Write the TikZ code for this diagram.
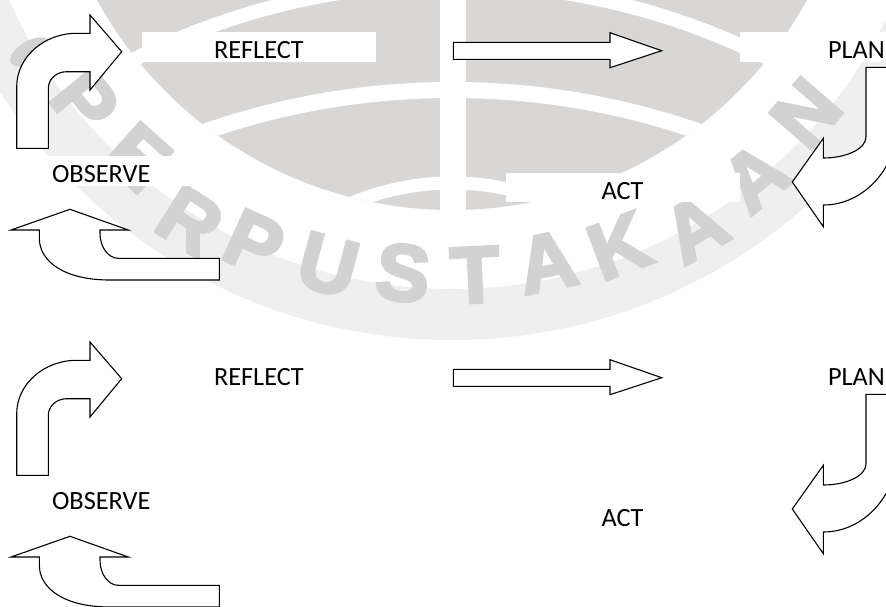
\documentclass[tikz,border=0pt]{standalone}
\usepackage{fontspec}
\setmainfont{Carlito}
\newfontfamily\wmfont{Liberation Sans}[BoldFeatures={FakeBold=4}]
\usetikzlibrary{calc}
\definecolor{globegray}{HTML}{D9D7D5}
\definecolor{lettergray}{HTML}{D2D2D2}
\definecolor{ringgray}{HTML}{EFEFEF}
\tikzset{
  blk/.style={draw=black, line width=1.1pt, fill=white, line join=miter},
  lbl/.style={fill=white, inner sep=0pt, minimum width=234pt, minimum height=29.4pt,
              text height=23.4pt, text depth=0pt, font=\fontsize{26.3}{30}\selectfont},
  wm/.style={inner sep=0pt, text=lettergray, font=\wmfont\bfseries\fontsize{80}{84}\selectfont}
}
\newcommand\drawcycle[1]{%
  % text boxes
  \node[lbl] (reflect#1) at (258.9,47) {REFLECT};
  \node[lbl] (plan#1) at (856.5,47) {PLAN};
  \node[lbl] (act#1) at (622.5,187.5) {ACT};
  \node[lbl] (observe#1) at (101.2,170.8) {OBSERVE};
  % observe -> reflect : bent arrow
  \draw[blk] (16.7,148.3) -- (16.7,86.7) .. controls (16.7,57.4) and (43.6,33.3) .. (76.7,33.3)
     -- (90,33.3) -- (90,15) -- (121.7,51.7) -- (90,90) -- (90,71.7) -- (66.7,71.7)
     .. controls (56.5,71.7) and (48.3,79.1) .. (48.3,88.3) -- (48.3,148.3) -- cycle;
  % reflect -> plan : straight block arrow
  \draw[blk] (453.3,42.3) -- (610,42.3) -- (610,32.7) -- (661.7,50.7) -- (610,67.7)
     -- (610,59.3) -- (453.3,59.3) -- cycle;
  % plan -> act : curved left arrow
  \draw[blk] (905,67.3) -- (866,67.3) -- (866,137) .. controls (866,148.6) and (846.9,158) .. (823.3,158)
     -- (823.3,138.3) -- (792.3,182) -- (823.3,226.7) -- (823.3,205)
     .. controls (864.7,205) and (898.3,166.9) .. (898.3,120) -- (905,67.3) -- cycle;
  % act -> observe : curved up arrow
  \draw[blk] (70,209.3) -- (128.3,230) -- (100,230) -- (100,233.3)
     .. controls (100,247.1) and (108.2,258.3) .. (118.3,258.3) -- (219.3,258.3) -- (219.3,280)
     -- (110,280) .. controls (65,280) and (39.3,262) .. (39.3,238) -- (39.3,230) -- (11,230) -- cycle;
}
\begin{document}
\begin{tikzpicture}[x=1pt,y=-1pt]
\useasboundingbox (0,0) rectangle (886,606);
\fill[white] (0,0) rectangle (886,606);
\begin{scope}
\clip (0,0) rectangle (886,606);
% ---- watermark emblem ----
\fill[ringgray, even odd rule] (452,-195) circle[radius=535pt] (452,-195) circle[radius=484pt];
\begin{scope}
  \clip (452,-195) circle[radius=405pt];
  \fill[globegray] (0,-300) rectangle (886,400);
  \draw[white, line width=14pt] (452,690) circle[radius=706pt];
  \draw[white, line width=16pt] (452,840) circle[radius=750pt];
  \draw[white, line width=13pt] (452,443) circle[radius=260pt];
  \fill[white] (440,-300) rectangle (466,400);
\end{scope}
\fill[lettergray, rotate around={30:(30,52)}] (30,52) ellipse[x radius=22pt, y radius=11pt];
\foreach \ch/\px/\py/\a [count=\i] in {P/85/102/141, E/138/157/131.7, R/190/221/122.2,
   P/254/243/114.3, U/328/265/105.1, S/403/273/96, T/475/275/87.2, A/547/262/78.3,
   K/619/246/69.3, A/695/228/60.1, A/755/177/50.8, N/806/113/41}
  \node[wm, rotate=90-\a] (wm\i) at (\px,\py) {\ch};
% ---- cycles ----
\drawcycle{1}
\begin{scope}[shift={(0,327)}]
\drawcycle{2}
\end{scope}
\end{scope}
\end{tikzpicture}
\end{document}
